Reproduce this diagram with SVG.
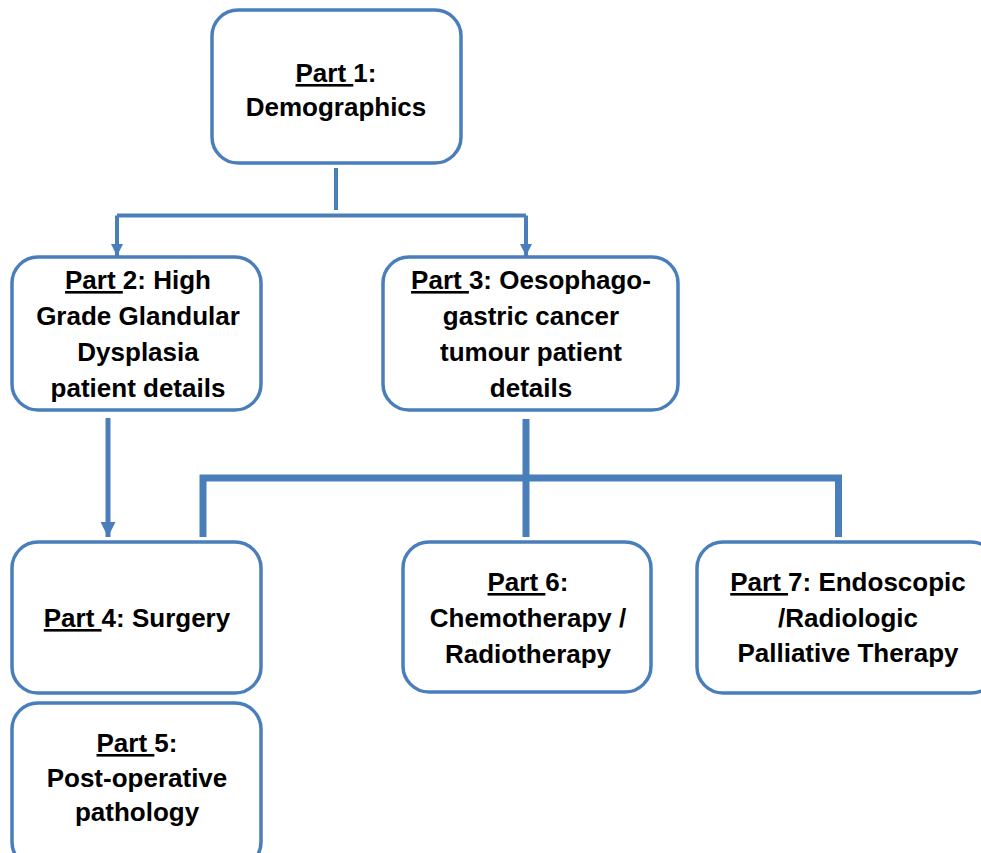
<svg xmlns="http://www.w3.org/2000/svg" width="981" height="853" viewBox="0 0 981 853">
<defs>
<style>
.box{fill:#fff;stroke:#4A7EBB;stroke-width:3.5}
.t{font-family:"Liberation Sans",Arial,sans-serif;font-weight:bold;font-size:26px;fill:#000;text-anchor:middle}
.u{text-decoration:underline}
.c{fill:none;stroke:#4A7EBB}
</style>
<marker id="ah" viewBox="0 0 10 10" refX="10" refY="5" markerWidth="3" markerHeight="3" orient="auto" markerUnits="strokeWidth">
<path d="M0,0 L10,5 L0,10 z" fill="#4A7EBB"/>
</marker>
</defs>
<rect width="981" height="853" fill="#fff"/>
<g id="connectors">
<path class="c" stroke-width="4" d="M336,168 V210"/>
<path class="c" stroke-width="4" d="M117,215.5 H526"/>
<path class="c" stroke-width="4" d="M117,215.5 V256" marker-end="url(#ah)"/>
<path class="c" stroke-width="4" d="M526,215.5 V256" marker-end="url(#ah)"/>
<path class="c" stroke-width="5" d="M108,418 V537" marker-end="url(#ah)"/>
<path class="c" stroke-width="7" d="M526,419 V537"/>
<path class="c" stroke-width="7" d="M203,537 V478 H838.5 V537"/>
</g>
<g id="part1">
<rect class="box" x="212" y="10" width="249" height="153" rx="26"/>
<text class="t" x="336" y="82"><tspan class="u">Part&#160;</tspan>1:</text>
<text class="t" x="336" y="116">Demographics</text>
</g>
<g id="part2">
<rect class="box" x="12" y="257" width="249" height="153" rx="26"/>
<text class="t" x="138" y="289"><tspan class="u">Part&#160;</tspan>2: High</text>
<text class="t" x="138" y="325">Grade Glandular</text>
<text class="t" x="138" y="361">Dysplasia</text>
<text class="t" x="138" y="397">patient details</text>
</g>
<g id="part3">
<rect class="box" x="383" y="257" width="295" height="153" rx="26"/>
<text class="t" x="531" y="289"><tspan class="u">Part&#160;</tspan>3: Oesophago-</text>
<text class="t" x="531" y="325">gastric cancer</text>
<text class="t" x="531" y="361">tumour patient</text>
<text class="t" x="531" y="397">details</text>
</g>
<g id="part4">
<rect class="box" x="12" y="542" width="249" height="151" rx="26"/>
<text class="t" x="137" y="627"><tspan class="u">Part&#160;</tspan>4: Surgery</text>
</g>
<g id="part5">
<rect class="box" x="12" y="703" width="249" height="165" rx="26"/>
<text class="t" x="137" y="752"><tspan class="u">Part&#160;</tspan>5:</text>
<text class="t" x="137" y="787">Post-operative</text>
<text class="t" x="137" y="821">pathology</text>
</g>
<g id="part6">
<rect class="box" x="403" y="542" width="248" height="150" rx="26"/>
<text class="t" x="528" y="591"><tspan class="u">Part&#160;</tspan>6:</text>
<text class="t" x="528" y="627">Chemotherapy /</text>
<text class="t" x="528" y="663">Radiotherapy</text>
</g>
<g id="part7">
<rect class="box" x="697" y="542" width="300" height="151" rx="26"/>
<text class="t" x="848" y="591"><tspan class="u">Part&#160;</tspan>7: Endoscopic</text>
<text class="t" x="848" y="627">/Radiologic</text>
<text class="t" x="848" y="662">Palliative Therapy</text>
</g>
</svg>
